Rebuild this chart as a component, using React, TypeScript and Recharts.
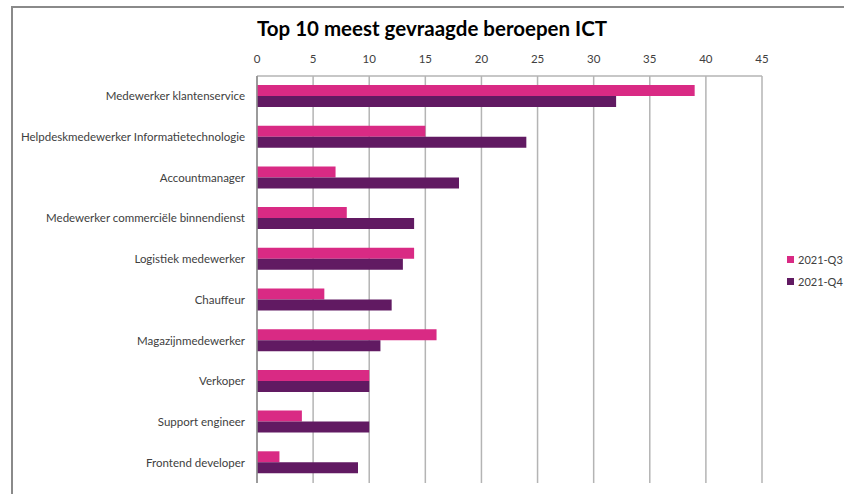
import React from "react";
import { BarChart, Bar, XAxis, YAxis, CartesianGrid } from "recharts";

const categories = [
  "Medewerker klantenservice",
  "Helpdeskmedewerker Informatietechnologie",
  "Accountmanager",
  "Medewerker commerciële binnendienst",
  "Logistiek medewerker",
  "Chauffeur",
  "Magazijnmedewerker",
  "Verkoper",
  "Support engineer",
  "Frontend developer",
];
const q3 = [39, 15, 7, 8, 14, 6, 16, 10, 4, 2];
const q4 = [32, 24, 18, 14, 13, 12, 11, 10, 10, 9];
const xTicks = [0, 5, 10, 15, 20, 25, 30, 35, 40, 45];

const series = [
  { key: "q3", name: "2021-Q3", color: "#D92A84" },
  { key: "q4", name: "2021-Q4", color: "#611A62" },
];

const data = categories.map((c, i) => ({ cat: c, q3: q3[i], q4: q4[i] }));

const FONT = "Lato, 'Open Sans', sans-serif";

// plain one-line tick, recharts would wrap long labels otherwise
function CatTick(props: any) {
  const { x, y, payload } = props;
  return (
    <text x={x} y={y} dy={4} textAnchor="end" fill="#404040" fontSize={11.5} fontFamily={FONT}>
      {payload.value}
    </text>
  );
}

export default function App() {
  return (
    <div style={{ position: "fixed", left: 0, top: 0, width: 844, height: 494, overflow: "hidden", background: "#fff", fontFamily: FONT }}>
      <div style={{ position: "absolute", left: 11, top: 6, width: 900, height: 500, border: "2px solid #8a8a8a" }} />
      <div style={{ position: "absolute", left: 182, top: 16, width: 500, textAlign: "center", fontSize: 20.5, fontWeight: 700, color: "#000", whiteSpace: "nowrap" }}>
        Top 10 meest gevraagde beroepen ICT
      </div>
      <div style={{ position: "absolute", left: 0, top: 0 }}>
        <BarChart
          width={844}
          height={494}
          data={data}
          layout="vertical"
          barGap={0}
          barSize={11}
          margin={{ top: 56, right: 82, bottom: 11, left: 17 }}
        >
          <CartesianGrid horizontal={false} stroke="#b4b4b4" strokeWidth={1.5} />
          <XAxis
            type="number"
            orientation="top"
            domain={[0, 45]}
            ticks={xTicks}
            height={20}
            tickLine={false}
            tickSize={11}
            axisLine={{ stroke: "#b4b4b4", strokeWidth: 1.5 }}
            tick={{ fill: "#404040", fontSize: 11.5, fontFamily: FONT }}
          />
          <YAxis
            type="category"
            dataKey="cat"
            width={240}
            interval={0}
            tickLine={false}
            tickSize={10}
            axisLine={{ stroke: "#8c8c8c", strokeWidth: 1.5 }}
            tick={<CatTick />}
          />
          {series.map((s) => (
            <Bar key={s.key} dataKey={s.key} name={s.name} fill={s.color} isAnimationActive={false} />
          ))}
        </BarChart>
      </div>
      {series.map((s, i) => (
        <div
          key={s.key}
          style={{ position: "absolute", left: 787, top: 253 + i * 22, display: "flex", alignItems: "center", fontSize: 11, color: "#404040", whiteSpace: "nowrap" }}
        >
          <span style={{ display: "inline-block", width: 7, height: 7, background: s.color, marginRight: 4 }} />
          {s.name}
        </div>
      ))}
    </div>
  );
}
